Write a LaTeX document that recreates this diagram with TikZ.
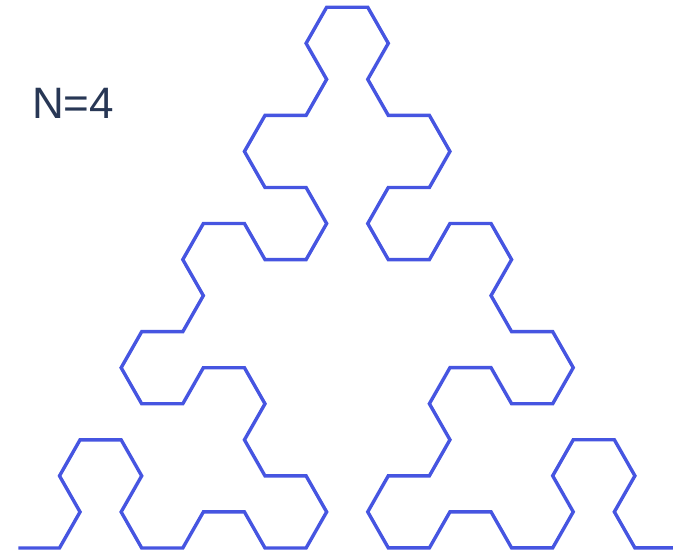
\documentclass[tikz,border=0pt]{standalone}
\usepackage{fontspec}
\setmainfont{Liberation Sans}
\usetikzlibrary{lindenmayersystems}
\pgfdeclarelindenmayersystem{arrowhead}{
  \symbol{A}{\pgflsystemdrawforward}
  \symbol{B}{\pgflsystemdrawforward}
  \rule{A -> B-A-B}
  \rule{B -> A+B+A}
}
\definecolor{curveblue}{RGB}{70,85,225}
\definecolor{labelink}{RGB}{40,55,85}
\tikzset{
  curve/.style={draw=curveblue, line width=3.4pt, line join=miter},
  lbl/.style={font=\fontsize{44}{44}\selectfont, text=labelink, inner sep=0pt, anchor=base west}
}
\begin{document}
\begin{tikzpicture}[x=1pt,y=1pt]
\useasboundingbox (0,0) rectangle (673,556);
\node[lbl] (title) at (32,437) {N=4};
\begin{scope}
\clip (0,0) rectangle (673,556);
\begin{scope}[shift={(18.4,8)}, yscale=1.013]
\draw[curve, l-system={arrowhead, axiom=A, order=4, angle=60, step=41.1pt}] (0,0) lindenmayer system;
\end{scope}
\end{scope}
\end{tikzpicture}
\end{document}
